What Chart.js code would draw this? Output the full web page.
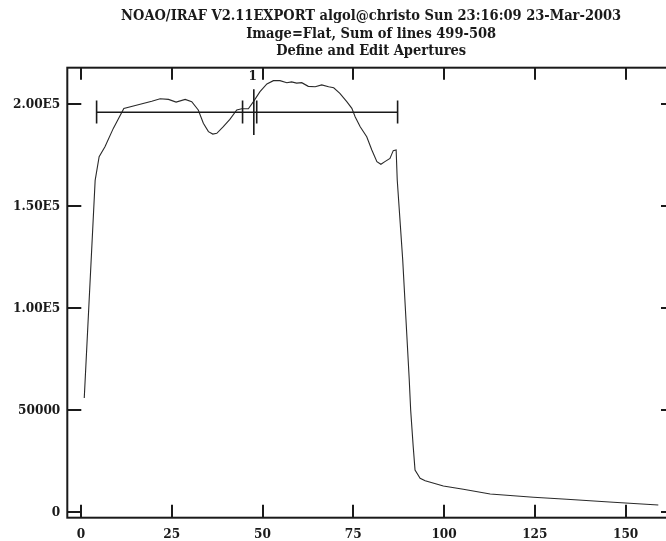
<!DOCTYPE html>
<html>
<head>
<meta charset="utf-8">
<script src="https://cdn.jsdelivr.net/npm/chart.js@4/dist/chart.umd.min.js"></script>
<style>
html,body{margin:0;padding:0;overflow:hidden;background:#fff;}
#wrap{width:690px;height:541px;}
</style>
</head>
<body>
<div id="wrap"><canvas id="c" width="690" height="541"></canvas></div>
<script>
// ---- data ----
const titleLines = [
  "NOAO/IRAF V2.11EXPORT algol@christo Sun 23:16:09 23-Mar-2003",
  "Image=Flat, Sum of lines 499-508",
  "Define and Edit Apertures"
];
const profileX = [0.9, 3.9, 5.0, 6.6, 8.9, 11.8, 16.3, 19.5, 21.8, 24.1, 26.2, 28.7, 30.5, 32.3, 33.7, 35.1, 36.3, 37.4, 39.2, 41.0, 42.9, 44.3, 46.1, 47.5, 49.3, 51.2, 53.0, 54.8, 56.7, 58.0, 59.4, 60.8, 62.6, 64.5, 66.3, 68.2, 69.6, 71.3, 73.2, 74.6, 75.5, 76.9, 78.7, 80.1, 81.5, 82.6, 83.7, 85.1, 86.0, 86.8, 87.1, 88.6, 89.5, 90.4, 90.8, 91.5, 92.0, 93.4, 94.8, 99.8, 105.3, 112.7, 124.6, 133.8, 146.6, 159.0];
const profileY = [56000, 162700, 174300, 179200, 188200, 198000, 200000, 201500, 202700, 202400, 201100, 202400, 201300, 197200, 190700, 186600, 185400, 185800, 189000, 192600, 197200, 197800, 197800, 201300, 206200, 210000, 211600, 211600, 210600, 211000, 210400, 210600, 208800, 208600, 209500, 208600, 208100, 205400, 201300, 198000, 193900, 189000, 184100, 177600, 171900, 170600, 171900, 173500, 177300, 177600, 162900, 124000, 94600, 65200, 50100, 32200, 20700, 16700, 15500, 12900, 11300, 9000, 7350, 6370, 4900, 3580];
const xTicks = [0, 25, 50, 75, 100, 125, 150];
const yTicks = [0, 50000, 100000, 150000, 200000];
const yTickLabels = ["0", "50000", "1.00E5", "1.50E5", "2.00E5"];
const apertureId = "1";
const apertureCenter = 47.6;
const apertureLow = 4.3;
const apertureHigh = 87.2;
const apertureLevel = 196100;
const apertureMarks = [44.5, 48.4];

// ---- styling ----
const INK = '#1a1a1a';
const FAMILY = "'DejaVu Serif Condensed', 'DejaVu Serif', serif";
const FONT = {family: FAMILY, size: 13.5, weight: 'bold', lineHeight: 1.3};
const TITLE_FONT = {family: FAMILY, size: 14.5, weight: 'bold', lineHeight: 1.2};

const framePlugin = {
  id: 'irafFrame',
  afterDatasetsDraw(chart) {
    const {ctx, chartArea: a, scales: {x, y}} = chart;
    ctx.save();
    ctx.strokeStyle = INK;
    ctx.lineWidth = 2;
    ctx.strokeRect(a.left, a.top, a.right - a.left, a.bottom - a.top);
    ctx.beginPath();
    xTicks.forEach(v => {
      const px = Math.round(x.getPixelForValue(v));
      ctx.moveTo(px, a.bottom); ctx.lineTo(px, a.bottom - 13);
      ctx.moveTo(px, a.top); ctx.lineTo(px, a.top + 12);
    });
    yTicks.forEach(v => {
      const py = Math.round(y.getPixelForValue(v));
      ctx.moveTo(a.left, py); ctx.lineTo(a.left + 14, py);
      ctx.moveTo(a.right, py); ctx.lineTo(a.right - 14, py);
    });
    ctx.stroke();

    // aperture marker
    const yp = y.getPixelForValue(apertureLevel);
    const xl = x.getPixelForValue(apertureLow);
    const xh = x.getPixelForValue(apertureHigh);
    const xc = x.getPixelForValue(apertureCenter);
    ctx.lineWidth = 1.4;
    ctx.beginPath();
    ctx.moveTo(xl, yp); ctx.lineTo(xh, yp);
    ctx.stroke();
    ctx.lineWidth = 1.6;
    ctx.beginPath();
    [apertureLow, apertureHigh, ...apertureMarks].forEach(v => {
      const px = x.getPixelForValue(v);
      ctx.moveTo(px, yp - 11.7); ctx.lineTo(px, yp + 11.3);
    });
    ctx.moveTo(xc, yp - 23); ctx.lineTo(xc, yp + 22.7);
    ctx.stroke();
    ctx.fillStyle = INK;
    ctx.font = `bold 13.5px ${FAMILY}`;
    ctx.textAlign = 'center';
    ctx.textBaseline = 'middle';
    ctx.fillText(apertureId, xc - 1, yp - 35.5);
    ctx.restore();
  }
};

new Chart(document.getElementById('c'), {
  type: 'line',
  data: {
    datasets: [{
      data: profileX.map((v, i) => ({x: v, y: profileY[i]})),
      borderColor: '#2a2a2a',
      borderWidth: 1.1,
      pointRadius: 0,
      tension: 0,
      fill: false
    }]
  },
  options: {
    responsive: false,
    devicePixelRatio: 1,
    animation: false,
    layout: {padding: {left: 0, right: 15, top: 0, bottom: 0}},
    plugins: {
      legend: {display: false},
      tooltip: {enabled: false},
      title: {
        display: true,
        fullSize: false,
        text: titleLines,
        color: INK,
        font: TITLE_FONT,
        padding: {top: 8, bottom: 7.5}
      }
    },
    scales: {
      x: {
        type: 'linear',
        min: -3.77,
        max: 163.6,
        grid: {display: false, drawTicks: false},
        border: {display: false},
        afterBuildTicks: s => { s.ticks = xTicks.map(v => ({value: v})); },
        afterFit: s => { s.height = 23.3; },
        ticks: {
          color: INK,
          font: FONT,
          padding: 8,
          maxRotation: 0,
          autoSkip: false,
          callback: v => String(v)
        }
      },
      y: {
        type: 'linear',
        min: -2647,
        max: 217941,
        grid: {display: false, drawTicks: false},
        border: {display: false},
        afterBuildTicks: s => { s.ticks = yTicks.map(v => ({value: v})); },
        afterFit: s => { s.width = 67.3; },
        ticks: {
          color: INK,
          font: FONT,
          padding: 7,
          autoSkip: false,
          callback: v => yTickLabels[yTicks.indexOf(v)]
        }
      }
    }
  },
  plugins: [framePlugin]
});
</script>
</body>
</html>
